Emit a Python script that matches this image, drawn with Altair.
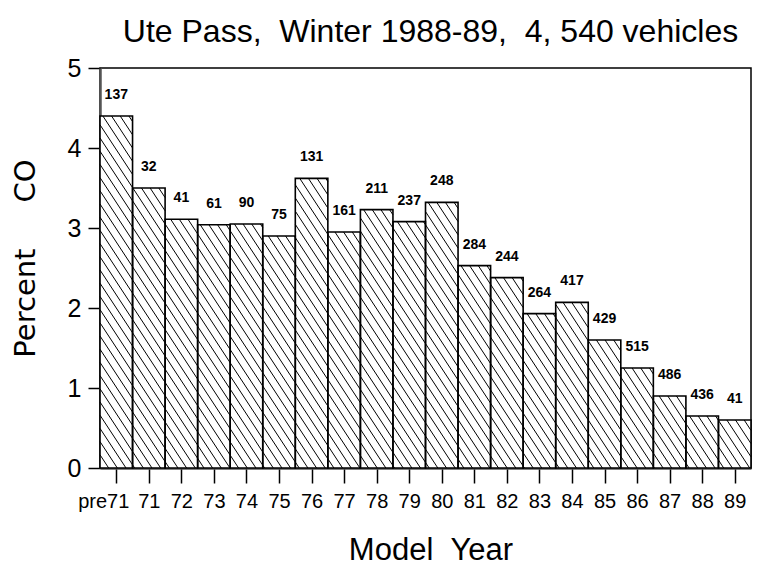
import json
import altair as alt
import pandas as pd

# ---- data ----
years = ["pre71", "71", "72", "73", "74", "75", "76", "77", "78", "79",
         "80", "81", "82", "83", "84", "85", "86", "87", "88", "89"]
pct_co = [4.40, 3.50, 3.11, 3.04, 3.05, 2.90, 3.62, 2.95, 3.23, 3.08,
          3.32, 2.53, 2.38, 1.93, 2.07, 1.60, 1.25, 0.90, 0.65, 0.60]
counts = [137, 32, 41, 61, 90, 75, 131, 161, 211, 237,
          248, 284, 244, 264, 417, 429, 515, 486, 436, 41]

FONT = "Liberation Sans, Arial, sans-serif"

df = pd.DataFrame({"year": years, "pct": pct_co, "n": counts})
df["idx"] = range(len(df))

W, H = 651, 400
# hatch geometry (data units): drop across one bar, vertical spacing
M = 0.62
D = 0.165

base = alt.Chart(df).transform_calculate(
    x1="datum.idx", x2="datum.idx + 1", xc="datum.idx + 0.5"
)

xscale = alt.Scale(domain=[0, len(years)], nice=False, zero=False)
yscale = alt.Scale(domain=[0, 5], nice=False)

label_expr = f"{json.dumps(years)}[floor(datum.value)]"

x_axis = alt.Axis(
    values=[i + 0.5 for i in range(len(years))], tickCount=len(years) + 5,
    labelExpr=label_expr, labelOverlap=False,
    labelOffset={"condition": {"test": "datum.value < 1", "value": -13}, "value": 0},
    title="Model\u00a0\u00a0Year",
    titleFont=FONT, titleFontSize=31, titleFontWeight="normal",
    titleBaseline="alphabetic", titleY=91, titleX=W / 2 + 5, titleAlign="center",
    labelFont=FONT, labelFontSize=20, labelColor="black", labelPadding=8,
    tickSize=15, tickColor="black", tickWidth=1.5,
    domainColor="#555", domainWidth=2.5, grid=False,
)
y_axis = alt.Axis(
    values=[0, 1, 2, 3, 4, 5], format="d", tickCount=10,
    title="Percent\u00a0\u00a0\u00a0\u00a0\u00a0CO",
    titleFont="DejaVu Sans", titleFontSize=29, titleFontWeight=500,
    titleAngle=-90, titleBaseline="middle", titleAlign="center",
    titleX=-75, titleY=190,
    labelFont=FONT, labelFontSize=25, labelColor="black", labelPadding=7,
    tickSize=12, tickColor="black", tickWidth=1.5,
    domainColor="#555", domainWidth=2.5, grid=False,
)

fill = base.mark_rect(fill="white", stroke=None).encode(
    x=alt.X("x1:Q", scale=xscale, axis=x_axis),
    x2="x2:Q",
    y=alt.Y("pct:Q", scale=yscale, axis=y_axis),
    y2=alt.datum(0),
)

hatch = alt.Chart(df).transform_calculate(
    kk=f"sequence(0, ceil((datum.pct + {M}) / {D}) + 2)"
).transform_flatten(["kk"]).transform_calculate(
    c=f"datum.kk * {D} - ((datum.idx * {M}) % {D})"
).transform_calculate(
    xs=f"datum.c > datum.pct ? datum.idx + (datum.c - datum.pct) / {M} : datum.idx",
    ys="min(datum.c, datum.pct)",
    xe=f"datum.c - {M} < 0 ? datum.idx + datum.c / {M} : datum.idx + 1",
    ye=f"max(datum.c - {M}, 0)",
).transform_filter("datum.xe > datum.xs + 0.001 && datum.c > 0").mark_rule(
    color="black", strokeWidth=1
).encode(
    x=alt.X("xs:Q", scale=xscale), x2="xe:Q",
    y=alt.Y("ys:Q", scale=yscale), y2="ye:Q",
)

outline = base.mark_rect(fill="white", fillOpacity=0, stroke="black", strokeWidth=1.6).encode(
    x=alt.X("x1:Q", scale=xscale), x2="x2:Q",
    y=alt.Y("pct:Q", scale=yscale), y2=alt.datum(0),
)

labels = base.mark_text(
    font=FONT, fontSize=14, fontWeight="bold", color="black",
    baseline="middle", align="center", dy=-21,
).encode(
    x=alt.X("xc:Q", scale=xscale),
    y=alt.Y("pct:Q", scale=yscale),
    text="n:Q",
)

chart = alt.layer(fill, hatch, outline, labels).properties(
    width=W, height=H,
    autosize=alt.AutoSizeParams(type="none"),
    padding={"left": 92, "top": 60, "right": 1, "bottom": 98},
    background="white",
    title=alt.TitleParams(
        "Ute Pass,\u00a0\u00a0Winter 1988-89,\u00a0\u00a04,\u00a0540 vehicles",
        font=FONT, fontSize=32, fontWeight="normal", color="black",
        anchor="middle", baseline="alphabetic", offset=10, dy=28, dx=5,
    ),
).configure_view(stroke="black", strokeWidth=1.5)

chart.save("out.html", embed_options={"renderer": "svg", "actions": False})
